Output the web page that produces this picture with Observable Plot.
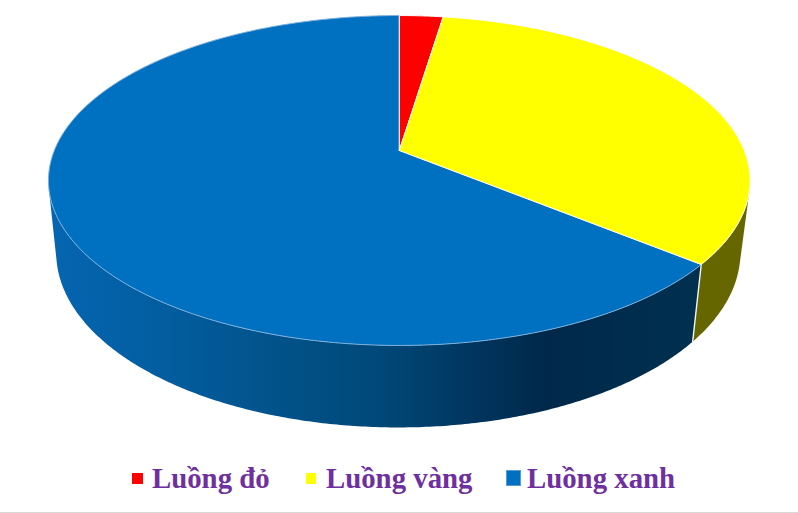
<!DOCTYPE html>
<html><head><meta charset="utf-8">
<script src="https://cdn.jsdelivr.net/npm/d3@7"></script>
<script src="https://cdn.jsdelivr.net/npm/@observablehq/plot@0.6"></script>
<style>
html,body{margin:0;padding:0;background:#fff;overflow:hidden}
#legend{position:absolute;left:0;top:462px;width:798px;height:50px;border-bottom:1px solid #d9d9d9;font:bold 28.8px "Liberation Serif",serif;color:#6f309f}
#legend span{position:absolute;top:0;white-space:nowrap}
#legend i{position:absolute;display:block;box-sizing:border-box}
</style></head><body>
<div id="chart"></div>
<div id="legend"></div>
<script>
const categories = ["Luồng đỏ", "Luồng vàng", "Luồng xanh"];
const shares = [2.4, 33.5, 64.1];
const topColors = ["#ff0000", "#ffff00", "#0070c0"];
const edgeColors = ["#ffffff", "#ffffff", "#7fb2de"];
const yellowWall = "#666600";
const blueWallX = [50, 130, 250, 380, 470, 545, 695];
const blueWallC = ["#0565b0", "#0360a5", "#02558f", "#004878", "#003660", "#00284a", "#00304f"];
const legendText = [152, 326, 527];
const legendSwatch = [[132, 473, 11, 11], [306, 473, 10, 11], [506, 470, 15, 16]];
const legendBorder = ["none", "none", "1px solid #5b9bd5"];

// perspective view of the pie disc
const px = 398.8, py = 150, k = 60 / 330, A = 345, B = 159.5;
const topPt = t => { const u = Math.sin(t), v = Math.cos(t), d = 1 + k * v;
  return [px + A * u / d, py - B * v / d]; };
const basePt = t => { const [x, y] = topPt(t);
  return [398 + 0.975 * (x - 399), 427 + 1.06 * (y - 345)]; };
const rad = d => d * Math.PI / 180;
const arc = (fn, a, b, step = 0.5) => {
  const n = Math.max(1, Math.ceil(Math.abs(b - a) / step)), out = [];
  for (let i = 0; i <= n; i++) out.push(fn(rad(a + (b - a) * i / n)));
  return out;
};

let acc = 0;
const bounds = shares.map(s => { const a0 = acc; acc += s; return [a0 * 3.6, acc * 3.6]; });
const seamAngle = bounds[1][1];

// silhouette: where the outline leaves the top ellipse for the lower one
const tagged = [];
for (let a = 0; a < 360; a += 0.5) {
  tagged.push(Object.assign(topPt(rad(a)), {a, top: true}));
  tagged.push(Object.assign(basePt(rad(a)), {a, top: false}));
}
const hull = d3.polygonHull(tagged);
const tangents = hull.map((p, i) => [p, hull[(i + 1) % hull.length]]).filter(([p, q]) => p.top !== q.top);
const side = left => {
  const pair = tangents.find(([p]) => (p[0] < px) === left);
  return {top: pair.find(p => p.top).a, base: pair.find(p => !p.top).a};
};
const L = side(true), R = side(false);

const poly = (pts, id) => pts.concat([pts[0]]).map(([x, y]) => ({x, y, id}));
const blueWall = poly(arc(basePt, seamAngle, L.base).concat(arc(topPt, L.top, seamAngle)), "b");
const yellowWallPts = poly(arc(basePt, seamAngle, R.base).concat(arc(topPt, R.top, seamAngle)), "y");

// top sectors, blue first so the white edges of the others lie on it
const order = [2, 0, 1];
const sectors = order.flatMap(i => {
  const [a0, a1] = bounds[i];
  return [[px, py], ...arc(topPt, a0, a1), [px, py]].map(([x, y]) => ({x, y, i}));
});
const seam = [topPt(rad(seamAngle)), basePt(rad(seamAngle))].map(([x, y]) => ({x, y}));

const plot = Plot.plot({
  width: 798, height: 462, margin: 0,
  x: {domain: [0, 798], range: [0, 798], axis: null},
  y: {domain: [0, 462], range: [0, 462], axis: null},
  color: {type: "identity"},
  marks: [
    Plot.line(blueWall, {x: "x", y: "y", fill: "url(#blueWallGrad)", curve: "linear"}),
    Plot.line(yellowWallPts, {x: "x", y: "y", fill: yellowWall, curve: "linear"}),
    Plot.line(seam, {x: "x", y: "y", stroke: "#f4f4f4", strokeWidth: 1.4}),
    Plot.line(sectors, {x: "x", y: "y", z: "i", curve: "linear", fill: d => topColors[d.i], stroke: d => edgeColors[d.i], strokeWidth: 1, strokeLinejoin: "round"})
  ]
});
const grad = d3.select(plot).insert("defs", ":first-child").append("linearGradient")
  .attr("id", "blueWallGrad").attr("gradientUnits", "userSpaceOnUse")
  .attr("x1", blueWallX[0]).attr("x2", blueWallX[blueWallX.length - 1]).attr("y1", 0).attr("y2", 0);
blueWallX.forEach((x, i) => grad.append("stop")
  .attr("offset", (x - blueWallX[0]) / (blueWallX[blueWallX.length - 1] - blueWallX[0]))
  .attr("stop-color", blueWallC[i]));
document.getElementById("chart").appendChild(plot);

const lg = document.getElementById("legend");
categories.forEach((c, i) => {
  const s = document.createElement("span");
  s.textContent = c; s.style.left = legendText[i] + "px"; lg.appendChild(s);
  const m = document.createElement("i"), [l, t, w, h] = legendSwatch[i];
  m.style.cssText = `left:${l}px;top:${t - 462}px;width:${w}px;height:${h}px;background:${topColors[i]};border:${legendBorder[i]}`;
  lg.appendChild(m);
});
</script></body></html>
